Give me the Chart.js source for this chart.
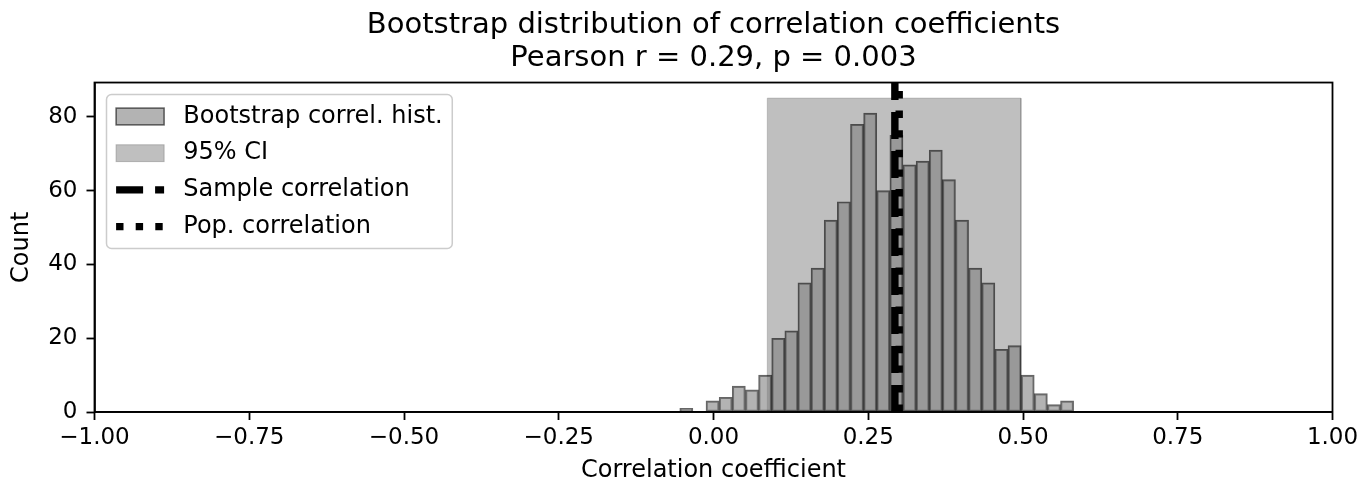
<!DOCTYPE html>
<html>
<head>
<meta charset="utf-8">
<script src="https://cdn.jsdelivr.net/npm/chart.js@4.4.1/dist/chart.umd.min.js"></script>
<style>
  html, body { margin: 0; padding: 0; background: #fff; }
  #wrap { width: 1371px; height: 484px; position: relative; }
</style>
</head>
<body>
<div id="wrap"><canvas id="chart"></canvas></div>
<script>
// ---- data ------------------------------------------------------------------
const FONT = '"DejaVu Sans", sans-serif';

const TITLE_LINES = [
  'Bootstrap distribution of correlation coefficients',
  'Pearson r = 0.29, p = 0.003',
];

// histogram bin centres (bin width ~0.0212) and counts (1000 resamples)
const binCenters = [
  -0.0439, -0.0227, -0.0015, 0.0197, 0.0409, 0.0622, 0.0834, 0.1046, 0.1258, 0.1470,
   0.1682,  0.1894,  0.2106, 0.2319, 0.2531, 0.2743, 0.2955, 0.3167, 0.3379, 0.3591,
   0.3803,  0.4015,  0.4228, 0.4440, 0.4652, 0.4864, 0.5076, 0.5288, 0.5500, 0.5712,
];
const binCounts = [
   1,  0,  3,  4,  7,  6, 10, 20, 22, 35,
  39, 52, 57, 78, 81, 60, 75, 67, 68, 71,
  63, 52, 39, 35, 17, 18, 10,  5,  2,  3,
];

const ciBounds   = [0.087, 0.4965];   // 95% CI
const ciHeight   = 85.05;             // 1.05 * max count
const sampleR    = 0.293;
const popR       = 0.300;
const yMax       = 89.3;

const xTicks = [-1, -0.75, -0.5, -0.25, 0, 0.25, 0.5, 0.75, 1];

// ---- helpers ---------------------------------------------------------------
function fmtX(v) {
  const s = Math.abs(v).toFixed(2);
  return v < -1e-9 ? '\u2212' + s : s;
}

// full box around the plot area (matplotlib spines)
const frame = {
  id: 'frame',
  afterDatasetsDraw(chart) {
    const { ctx, chartArea: a } = chart;
    ctx.save();
    ctx.strokeStyle = '#000';
    ctx.lineWidth = 1.8;
    ctx.strokeRect(a.left, a.top, a.right - a.left, a.bottom - a.top);
    ctx.restore();
  },
};

// legend box in the upper left, matplotlib style
const mplLegend = {
  id: 'mplLegend',
  afterDraw(chart) {
    const { ctx, chartArea: a } = chart;
    const fs = 24, pad = 9.6, rowH = 24.7, gap = 12, handleW = 48, textPad = 19.2;
    const items = chart.data.datasets;
    ctx.save();
    ctx.font = `${fs}px ${FONT}`;
    const textW = Math.max(...items.map(d => ctx.measureText(d.label).width));
    const x0 = a.left + 12, y0 = a.top + 12;
    const w = pad * 2 + handleW + textPad + textW;
    const h = pad * 2 + items.length * rowH + (items.length - 1) * gap;

    ctx.beginPath();
    ctx.roundRect(x0, y0, w, h, 5);
    ctx.fillStyle = 'rgba(255,255,255,0.8)';
    ctx.fill();
    ctx.strokeStyle = '#cccccc';
    ctx.lineWidth = 1.5;
    ctx.stroke();

    items.forEach((d, i) => {
      const cy = y0 + pad + i * (rowH + gap) + rowH / 2;
      const hx = x0 + pad;
      if (d.type === 'bar' || d.fill) {
        const ph = 16.8;
        ctx.fillStyle = d.backgroundColor;
        ctx.fillRect(hx, cy - ph / 2, handleW, ph);
        ctx.strokeStyle = d.borderColor;
        ctx.lineWidth = d.type === 'bar' ? 1.5 : 1;
        ctx.setLineDash([]);
        ctx.strokeRect(hx, cy - ph / 2, handleW, ph);
      } else {
        ctx.beginPath();
        ctx.strokeStyle = d.borderColor;
        ctx.lineWidth = d.borderWidth;
        ctx.lineCap = 'butt';
        ctx.setLineDash(d.borderDash || []);
        ctx.moveTo(hx, cy);
        ctx.lineTo(hx + handleW, cy);
        ctx.stroke();
      }
      ctx.setLineDash([]);
      ctx.fillStyle = '#000';
      ctx.textBaseline = 'middle';
      ctx.textAlign = 'left';
      ctx.fillText(d.label, hx + handleW + textPad, cy);
    });
    ctx.restore();
  },
};

// ---- chart -----------------------------------------------------------------
Chart.defaults.color = '#000';
Chart.defaults.font.family = FONT;

const histData = binCenters.map((x, i) => ({ x, y: binCounts[i] }));
const ciData = [
  { x: ciBounds[0], y: 0 }, { x: ciBounds[0], y: ciHeight },
  { x: ciBounds[1], y: ciHeight }, { x: ciBounds[1], y: 0 },
];
const vline = x => [{ x, y: 0 }, { x, y: yMax }];

new Chart(document.getElementById('chart'), {
  type: 'bar',
  data: {
    datasets: [
      {
        type: 'bar', label: 'Bootstrap correl. hist.', data: histData, order: 2,
        backgroundColor: 'rgba(128,128,128,0.6)', borderColor: 'rgba(0,0,0,0.6)',
        borderWidth: 1.5, borderSkipped: false,
        barPercentage: 1, categoryPercentage: 1,
      },
      {
        type: 'line', label: '95% CI', data: ciData, order: 3,
        backgroundColor: 'rgba(128,128,128,0.5)', borderColor: 'rgba(128,128,128,0.5)',
        borderWidth: 1, fill: 'origin', pointRadius: 0, tension: 0,
      },
      {
        type: 'line', label: 'Sample correlation', data: vline(sampleR), order: 1,
        borderColor: '#000', borderWidth: 7.4, borderDash: [27, 12], borderCapStyle: 'butt',
        pointRadius: 0, fill: false,
      },
      {
        type: 'line', label: 'Pop. correlation', data: vline(popR), order: 0,
        borderColor: '#000', borderWidth: 7.4, borderDash: [7.4, 12.2], borderCapStyle: 'butt',
        pointRadius: 0, fill: false,
      },
    ],
  },
  options: {
    animation: false,
    responsive: true,
    maintainAspectRatio: false,
    events: [],
    layout: { padding: { left: 0, right: 38.5, top: 0, bottom: 0 } },
    plugins: {
      legend: { display: false },
      tooltip: { enabled: false },
      title: {
        display: true, text: TITLE_LINES, color: '#000', fullSize: false,
        font: { family: FONT, size: 29, weight: 'normal', lineHeight: 1.13 },
        padding: { top: 9, bottom: 8 },
      },
    },
    scales: {
      x: {
        type: 'linear', min: -1, max: 1, offset: false,
        afterBuildTicks: s => { s.ticks = xTicks.map(v => ({ value: v })); },
        afterFit: s => { s.height = 72; },
        ticks: { font: { size: 23 }, padding: 4, maxRotation: 0, autoSkip: false, callback: fmtX },
        grid: { display: true, offset: false, drawOnChartArea: false, drawTicks: true,
                tickLength: 8, tickWidth: 1.8, tickColor: '#000' },
        border: { display: true, color: '#000', width: 1.8 },
        title: { display: true, text: 'Correlation coefficient',
                 font: { size: 24, lineHeight: 1 }, padding: { top: 0, bottom: 1 } },
      },
      y: {
        type: 'linear', min: 0, max: yMax,
        afterFit: s => { s.width = 94.5; },
        ticks: { stepSize: 20, includeBounds: false, font: { size: 23 }, padding: 9 },
        grid: { display: true, drawOnChartArea: false, drawTicks: true,
                tickLength: 8, tickWidth: 1.8, tickColor: '#000' },
        border: { display: true, color: '#000', width: 1.8 },
        title: { display: true, text: 'Count',
                 font: { size: 24, lineHeight: 1 }, padding: { top: 10, bottom: 0 } },
      },
    },
  },
  plugins: [frame, mplLegend],
});
</script>
</body>
</html>
